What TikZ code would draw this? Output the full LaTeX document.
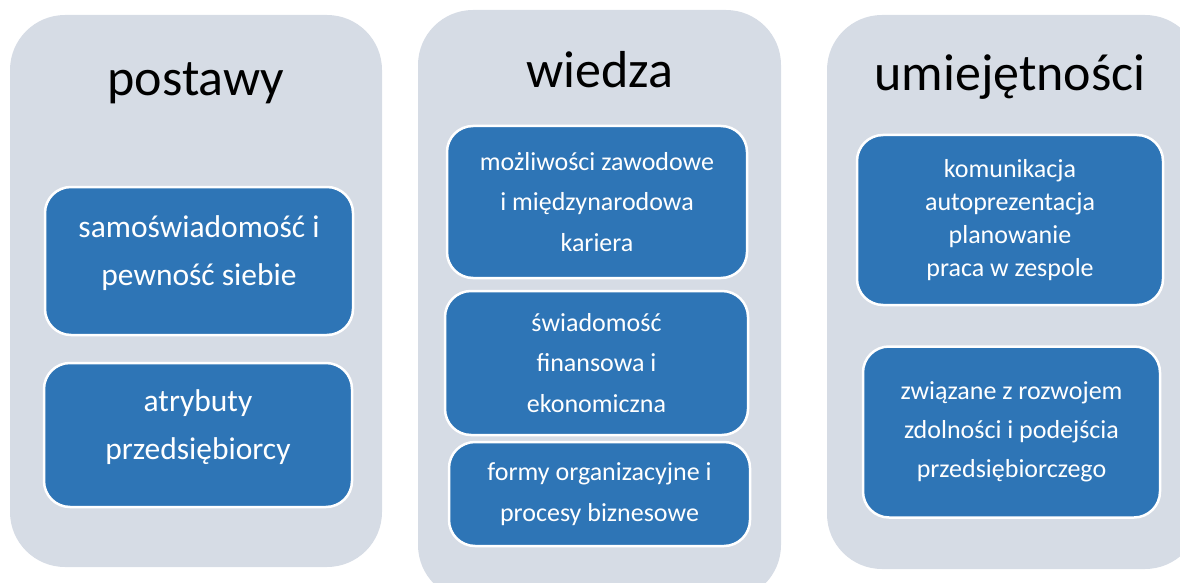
\documentclass[tikz,border=0pt]{standalone}
\usepackage{fontspec}
\setmainfont{Carlito}
\tikzset{
  column/.style={fill=grayback, rounded corners=55pt},
  title/.style={anchor=base, text=black, font=\fontsize{52}{60}\selectfont},
  item/.style={draw=white, line width=2.5pt, fill=itemblue, text=white,
    rounded corners=26pt, align=center, inner sep=0pt}
}
\definecolor{grayback}{RGB}{214,220,229}
\definecolor{itemblue}{RGB}{46,117,182}
\begin{document}
\begin{tikzpicture}[x=1pt,y=-1pt]
      \useasboundingbox (0,0) rectangle (1180,583);
      \clip (0,0) rectangle (1180,583);
      % columns
      \fill[column] (10,15) rectangle (382,567);
      \fill[column] (418,10) rectangle (781,600);
      \fill[column] (827,15) rectangle (1200,569);
      \draw
        (196,96) node[title] (postawy){postawy}
        (600,88) node[title] (wiedza){wiedza}
        (1010,91) node[title] (umiejetnosci){umiejętności};
      % postawy
      \begin{scope}[font=\fontsize{31.5}{48}\selectfont, text depth=21pt]
        \node[item, minimum width=308, minimum height=148] (samo) at (199,261)
          {samoświadomość i\\pewność siebie};
        \node[item, minimum width=308, minimum height=144] (atrybuty) at (198,435)
          {atrybuty\\przedsiębiorcy};
      \end{scope}
      % wiedza
      \begin{scope}[font=\fontsize{26}{40.5}\selectfont]
        \node[item, minimum width=300, minimum height=152] (mozliwosci) at (597,202)
          {możliwości zawodowe\\i międzynarodowa\\kariera};
        \node[item, minimum width=303, minimum height=144] (finanse) at (596.5,363)
          {świadomość\\finansowa i\\ekonomiczna};
        \node[item, minimum width=301, minimum height=104] (formy) at (599.5,494)
          {formy organizacyjne i\\procesy biznesowe};
      \end{scope}
      % umiejetnosci
      \begin{scope}[font=\fontsize{26}{33}\selectfont]
        \node[item, minimum width=306, minimum height=170] (komunikacja) at (1010,220)
          {komunikacja\\autoprezentacja\\planowanie\\praca w zespole};
      \end{scope}
      \begin{scope}[font=\fontsize{26}{39}\selectfont]
        \node[item, minimum width=297, minimum height=171] (rozwoj) at (1011.5,432)
          {związane z rozwojem\\zdolności i podejścia\\przedsiębiorczego};
      \end{scope}
    \end{tikzpicture}
\end{document}
